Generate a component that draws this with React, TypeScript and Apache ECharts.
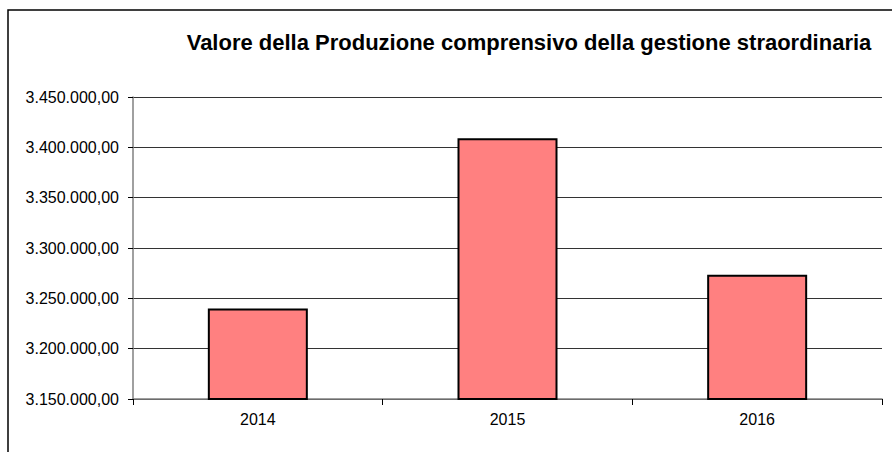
import React, { useEffect, useRef } from "react";
import * as echarts from "echarts";

const TITLE = "Valore della Produzione comprensivo della gestione straordinaria";
const categories = ["2014", "2015", "2016"];
const values = [3240000, 3409000, 3273500];
const yMin = 3150000;
const yMax = 3450000;
const yStep = 50000;

function formatIt(v: number): string {
  const s = Math.round(v).toString();
  const withDots = s.replace(/\B(?=(\d{3})+(?!\d))/g, ".");
  return withDots + ",00";
}

const FONT = "'Liberation Sans', Arial, sans-serif";

export default function App() {
  const ref = useRef<HTMLDivElement>(null);
  useEffect(() => {
    if (!ref.current) return;
    const chart = echarts.init(ref.current, undefined, { renderer: "svg" });
    chart.setOption({
      animation: false,
      backgroundColor: "#ffffff",
      textStyle: { fontFamily: FONT },
      title: {
        text: TITLE,
        left: 524,
        top: 26,
        textAlign: "center",
        textStyle: {
          fontFamily: FONT,
          fontWeight: "bold",
          fontSize: 22,
          color: "#000",
        },
      },
      graphic: [
        {
          type: "rect",
          shape: { x: 8, y: 10, width: 920, height: 500 },
          style: { fill: "none", stroke: "#000", lineWidth: 1.5 },
          silent: true,
        },
      ],
      grid: { left: 133, right: 10, top: 97, bottom: 53, containLabel: false },
      xAxis: {
        type: "category",
        data: categories,
        axisLine: { show: true, lineStyle: { color: "#808080", width: 1.5 } },
        axisTick: { show: true, length: 6, lineStyle: { color: "#000", width: 1 } },
        axisLabel: { margin: 12, fontSize: 16, color: "#000", fontFamily: FONT },
        splitLine: { show: false },
      },
      yAxis: {
        type: "value",
        min: yMin,
        max: yMax,
        interval: yStep,
        axisLine: { show: true, lineStyle: { color: "#808080", width: 1.5 } },
        axisTick: { show: true, length: 5, lineStyle: { color: "#000", width: 1 } },
        axisLabel: {
          margin: 14,
          fontSize: 16,
          color: "#000",
          fontFamily: FONT,
          formatter: (v: number) => formatIt(v),
        },
        splitLine: { show: true, lineStyle: { color: "#333", width: 1 } },
      },
      series: [
        {
          type: "bar",
          data: values,
          barWidth: 100,
          itemStyle: { color: "#FF8080", borderColor: "#000", borderWidth: 2 },
        },
      ],
    });
    return () => chart.dispose();
  }, []);
  return (
    <div
      ref={ref}
      style={{ position: "fixed", left: 0, top: 0, width: 892, height: 452 }}
    />
  );
}
